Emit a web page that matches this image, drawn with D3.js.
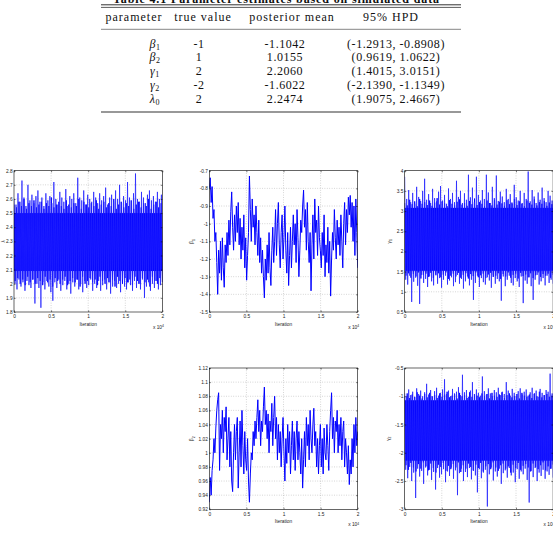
<!DOCTYPE html>
<html lang="en">
<head>
<meta charset="UTF-8">
<title>Parameter estimates and MCMC traces</title>
<script src="https://d3js.org/d3.v7.min.js"></script>
<style>
  body { margin: 0; background: #fff; }
  svg { display: block; }
  .tbl text { font-family: "Liberation Serif", "Times New Roman", serif; font-size: 12px; fill: #111; letter-spacing: 0.55px; }
  .tbl .hd { letter-spacing: 1px; }
  .ax text { font-family: "Liberation Sans", Arial, sans-serif; font-size: 4.8px; fill: #222; }
  .ax .domain { display: none; }
  .ax line { stroke: #000; stroke-width: 0.5; }
  .grid line { stroke: #999; stroke-width: 0.5; stroke-dasharray: 0.8 1.6; }
</style>
</head>
<body>
<svg id="fig" width="553" height="533"></svg>
<script>
// ---- table ----
const tableCaption = "Table 4.1 Parameter estimates based on simulated data";
const tableHeader = ["parameter", "true value", "posterior mean", "95% HPD"];
const paramSymbols = [["β", "1"], ["β", "2"], ["γ", "1"], ["γ", "2"], ["λ", "0"]];
const trueValues = ["-1", "1", "2", "-2", "2"];
const posteriorMeans = ["-1.1042", "1.0155", "2.2060", "-1.6022", "2.2474"];
const hpdIntervals = ["(-1.2913, -0.8908)", "(0.9619, 1.0622)", "(1.4015, 3.0151)",
                      "(-2.1390, -1.1349)", "(1.9075, 2.4667)"];

// ---- traces (thinned) ----
const iterTicks = [0, 0.5, 1, 1.5, 2];   // x 10^4

const lambdaTicks = [1.8, 1.9, 2, 2.1, 2.2, 2.3, 2.4, 2.5, 2.6, 2.7, 2.8];
const lambdaCore = [2.09, 2.50];
const lambdaPeaks = [2.60,2.56,2.64,2.58,2.73,2.61,2.55,2.70,2.59,2.63,
  2.57,2.62,2.66,2.58,2.61,2.55,2.64,2.59,2.62,2.57,
  2.72,2.60,2.56,2.65,2.61,2.58,2.67,2.55,2.62,2.60,
  2.64,2.57,2.75,2.61,2.59,2.66,2.56,2.63,2.60,2.58,
  2.65,2.61,2.57,2.64,2.59,2.62,2.68,2.56,2.61,2.63,
  2.58,2.66,2.60,2.70,2.57,2.62,2.59,2.72,2.61,2.56,
  2.64,2.78,2.60,2.58,2.65,2.61,2.57,2.63,2.66,2.59,
  2.62,2.58,2.65,2.60,2.63];
const lambdaTroughs = [2.00,1.96,2.03,1.98,2.01,1.95,2.02,1.99,1.97,2.03,
  1.86,2.00,1.97,1.83,2.01,1.96,2.02,1.98,1.94,1.88,
  2.01,1.97,2.03,1.95,1.99,2.02,1.96,2.00,1.93,2.01,
  1.98,2.03,1.96,2.00,1.94,2.02,1.97,1.99,2.03,1.95,
  2.00,1.97,2.02,1.95,1.99,2.03,1.96,2.01,1.93,1.98,
  2.02,1.97,2.00,1.94,2.03,1.98,1.96,2.01,1.99,1.95,
  2.02,1.97,2.00,1.96,2.03,1.90,1.98,2.01,1.95,2.00,
  1.97,2.02,1.96,1.99,2.01];
const lambdaInnerPeaks = [2.56,2.54,2.58,2.55,2.60,2.53,2.57,2.55,2.59,2.54,
  2.56,2.58,2.53,2.57,2.55,2.61,2.54,2.56,2.58,2.55,
  2.53,2.59,2.56,2.54,2.57,2.55,2.60,2.53,2.58,2.56,
  2.54,2.57,2.55,2.59,2.53,2.56,2.58,2.54,2.57,2.55,
  2.60,2.53,2.56,2.58,2.54,2.57,2.55,2.59,2.53,2.56,
  2.58,2.54,2.57,2.55,2.60,2.53,2.56,2.58,2.54,2.57];
const lambdaInnerTroughs = [2.02,2.04,2.00,2.03,1.99,2.05,2.01,2.03,2.00,2.04,
  2.02,1.99,2.05,2.01,2.03,1.98,2.04,2.02,2.00,2.03,
  2.05,1.99,2.02,2.04,2.01,2.03,1.98,2.05,2.00,2.02,
  2.04,2.01,2.03,1.99,2.05,2.02,2.00,2.04,2.01,2.03,
  1.98,2.05,2.02,2.00,2.04,2.01,2.03,1.99,2.05,2.02,
  2.00,2.04,2.01,2.03,1.98,2.05,2.02,2.00,2.04,2.01];

const beta1Ticks = [-1.5, -1.4, -1.3, -1.2, -1.1, -1, -0.9, -0.8, -0.7];
const beta1Trace = [-0.80,-0.74,-0.88,-0.79,-0.97,-0.92,-1.10,-1.05,-1.22,-1.40,
  -1.15,-1.28,-1.10,-1.32,-1.08,-1.25,-1.36,-1.12,-1.22,-1.05,
  -1.18,-0.98,-1.12,-0.93,-0.82,-1.02,-1.15,-0.95,-1.10,-0.90,
  -1.05,-0.88,-1.12,-0.97,-1.20,-1.02,-1.15,-0.95,-1.25,-1.08,
  -1.32,-1.18,-1.05,-0.73,-0.92,-1.10,-0.86,-1.02,-0.95,-1.12,
  -0.90,-1.05,-1.18,-0.98,-1.22,-1.08,-1.28,-1.15,-1.30,-1.42,
  -1.20,-1.32,-1.12,-1.28,-1.05,-1.25,-1.35,-1.15,-1.02,-1.22,
  -1.10,-0.92,-1.18,-1.00,-0.88,-1.12,-1.25,-1.05,-0.95,-1.20,
  -1.08,-0.90,-1.15,-1.28,-1.05,-1.35,-1.18,-1.02,-1.25,-1.10,
  -0.95,-1.12,-1.00,-1.22,-0.92,-1.08,-1.30,-1.15,-0.98,-1.05,
  -0.90,-0.81,-1.02,-0.92,-1.15,-0.88,-1.10,-1.22,-1.05,-1.38,
  -1.12,-0.95,-1.20,-0.86,-1.05,-0.98,-1.18,-0.90,-1.08,-1.15,
  -1.25,-1.05,-1.18,-0.95,-1.30,-1.12,-1.22,-1.02,-1.28,-1.10,
  -1.41,-1.20,-1.05,-1.15,-0.92,-1.08,-1.20,-0.98,-1.12,-1.02,
  -1.18,-0.95,-1.10,-1.25,-1.00,-0.88,-1.12,-0.92,-1.05,-0.85,
  -0.95,-0.84,-1.02,-0.88,-1.10,-0.90,-1.18,-0.86,-1.05,-1.25];

const gamma1Ticks = [0.5, 1, 1.5, 2, 2.5, 3, 3.5, 4];
const gamma1Core = [1.52, 3.08];
const gamma1Peaks = [3.85,3.30,3.52,3.22,3.45,3.18,3.60,3.35,3.25,3.50,
  3.80,3.28,3.42,3.20,3.55,3.32,3.24,3.48,3.62,3.26,
  3.40,3.18,3.56,3.30,3.45,3.22,3.75,3.35,3.50,3.20,
  3.44,3.28,3.90,3.34,3.58,3.22,3.85,3.40,3.26,3.52,
  3.30,3.90,3.46,3.20,3.60,3.32,3.88,3.25,3.48,3.36,
  3.22,3.55,3.30,3.42,3.18,3.65,3.34,3.26,3.50,3.20,
  3.45,3.30,3.98,3.24,3.52,3.36,3.20,3.46,3.28,3.58,
  3.32,3.22,3.50,3.38,3.26];
const gamma1Troughs = [1.30,1.18,1.40,0.75,1.25,1.35,1.15,0.70,1.42,1.22,
  1.32,1.12,1.38,1.26,1.16,1.44,1.20,1.34,1.10,1.30,
  1.40,1.18,1.28,1.36,1.14,1.24,1.42,1.20,1.32,1.08,
  1.26,1.38,1.16,1.30,0.80,1.22,1.40,1.12,1.34,1.24,
  1.18,1.36,1.28,1.10,1.42,1.20,1.32,1.26,0.78,1.38,
  1.14,1.30,1.40,1.22,1.16,1.34,1.26,1.12,1.38,0.72,
  1.28,1.20,1.36,1.14,0.80,1.30,1.42,1.18,1.26,1.34,
  1.16,1.40,1.22,1.30,1.20];
const gamma1InnerPeaks = [3.20,3.14,3.28,3.17,3.24,3.12,3.30,3.18,3.22,3.15,
  3.26,3.13,3.21,3.32,3.16,3.24,3.19,3.12,3.27,3.18,
  3.14,3.23,3.29,3.16,3.20,3.13,3.25,3.17,3.31,3.15,
  3.22,3.18,3.12,3.26,3.20,3.14,3.28,3.16,3.23,3.19,
  3.13,3.27,3.17,3.21,3.30,3.15,3.24,3.18,3.12,3.26,
  3.20,3.16,3.29,3.14,3.22,3.18,3.25,3.13,3.21,3.17];
const gamma1InnerTroughs = [1.40,1.46,1.35,1.44,1.38,1.48,1.33,1.42,1.45,1.37,
  1.47,1.34,1.41,1.46,1.36,1.43,1.48,1.32,1.40,1.45,
  1.38,1.47,1.35,1.42,1.46,1.33,1.44,1.39,1.48,1.36,
  1.41,1.45,1.34,1.43,1.47,1.37,1.40,1.46,1.32,1.44,
  1.38,1.48,1.35,1.42,1.45,1.33,1.47,1.39,1.43,1.36,
  1.46,1.34,1.41,1.48,1.37,1.44,1.40,1.45,1.35,1.42];

const beta2Ticks = [0.92, 0.94, 0.96, 0.98, 1, 1.02, 1.04, 1.06, 1.08, 1.1, 1.12];
const beta2Trace = [0.93,0.965,0.94,0.975,0.99,1.02,1.00,1.035,1.06,1.075,
  1.085,0.975,1.04,1.02,1.06,1.00,1.05,1.03,1.065,0.99,
  1.02,1.05,0.98,1.03,0.96,0.945,1.00,1.04,0.99,1.03,
  1.05,0.95,1.00,1.045,0.98,1.06,1.01,0.97,1.03,0.99,
  0.975,1.02,0.96,0.93,0.97,1.00,0.99,1.03,1.01,1.045,
  1.02,1.05,1.075,1.03,1.06,1.01,1.045,1.03,1.065,1.093,
  1.04,1.06,1.02,1.055,1.00,1.045,1.03,1.07,1.01,1.05,
  1.08,1.02,1.05,0.99,1.04,1.00,1.03,0.98,1.02,1.05,
  1.00,0.96,1.02,0.985,1.04,1.00,1.03,0.97,1.01,1.045,
  0.99,1.03,0.975,1.02,1.045,0.99,1.03,1.00,0.97,1.02,
  0.95,0.99,1.03,0.98,1.05,1.01,1.04,0.99,1.06,1.02,
  1.00,1.04,1.063,1.01,1.03,0.98,1.02,0.97,1.01,1.04,
  0.98,1.02,0.97,1.035,1.00,0.99,1.04,1.01,0.975,1.03,
  1.06,1.085,1.02,1.05,1.00,1.045,1.03,1.06,1.00,1.04,
  1.01,1.05,0.99,1.03,1.045,0.98,1.02,1.00,0.97,1.01,
  0.955,0.99,0.97,1.02,0.98,1.04,1.00,1.05,1.01,1.03];

const gamma2Ticks = [-3, -2.5, -2, -1.5, -1, -0.5];
const gamma2Core = [-2.14, -1.07];
const gamma2Peaks = [-0.95,-1.00,-0.88,-0.98,-0.92,-1.02,-0.86,-0.96,-0.90,-1.00,
  -0.93,-0.78,-0.97,-0.89,-1.01,-0.91,-0.85,-0.99,-0.94,-0.88,
  -0.70,-0.96,-0.90,-1.00,-0.87,-0.95,-0.92,-0.84,-0.98,-0.62,
  -0.93,-0.89,-1.01,-0.90,-0.75,-0.96,-0.88,-0.94,-0.99,-0.65,
  -0.91,-0.97,-0.86,-0.95,-1.00,-0.89,-0.93,-0.85,-0.98,-0.92,
  -0.96,-0.75,-0.90,-0.99,-0.87,-0.94,-1.00,-0.91,-0.86,-0.97,
  -0.92,-0.88,-0.99,-0.93,-0.85,-0.96,-0.90,-1.01,-0.87,-0.94,
  -0.98,-0.89,-0.92,-0.60,-0.95];
const gamma2Troughs = [-2.30,-2.45,-2.25,-2.50,-2.35,-2.80,-2.28,-2.42,-2.32,-2.55,
  -2.26,-2.40,-2.30,-2.48,-2.34,-2.65,-2.27,-2.44,-2.38,-2.29,
  -2.52,-2.33,-2.41,-2.26,-2.46,-2.31,-2.75,-2.36,-2.28,-2.50,
  -2.34,-2.43,-2.27,-2.47,-2.32,-2.40,-2.70,-2.29,-2.45,-2.35,
  -2.30,-2.95,-2.38,-2.26,-2.49,-2.33,-2.42,-2.28,-2.55,-2.36,
  -2.31,-2.44,-2.27,-2.40,-2.35,-2.52,-2.29,-2.46,-2.33,-2.38,
  -2.28,-2.48,-2.88,-2.32,-2.43,-2.27,-2.50,-2.35,-2.41,-2.30,
  -2.46,-2.33,-2.39,-2.28,-2.44];
const gamma2InnerPeaks = [-1.00,-0.95,-1.03,-0.97,-1.01,-0.93,-0.99,-1.04,-0.96,-1.02,
  -0.94,-1.00,-0.98,-1.03,-0.95,-1.01,-0.97,-0.92,-1.02,-0.99,
  -0.96,-1.04,-0.94,-1.00,-0.98,-1.03,-0.93,-1.01,-0.97,-0.99,
  -1.02,-0.95,-1.00,-0.96,-1.04,-0.94,-0.99,-1.01,-0.97,-0.93,
  -1.03,-0.98,-0.95,-1.02,-1.00,-0.96,-1.04,-0.94,-0.99,-1.01,
  -0.97,-1.03,-0.95,-1.00,-0.92,-1.02,-0.98,-0.96,-1.01,-0.99];
const gamma2InnerTroughs = [-2.22,-2.30,-2.18,-2.26,-2.33,-2.20,-2.28,-2.17,-2.24,-2.31,
  -2.19,-2.27,-2.35,-2.21,-2.25,-2.18,-2.32,-2.23,-2.29,-2.20,
  -2.26,-2.17,-2.34,-2.22,-2.28,-2.19,-2.25,-2.31,-2.21,-2.27,
  -2.18,-2.33,-2.24,-2.20,-2.29,-2.17,-2.26,-2.32,-2.22,-2.19,
  -2.28,-2.24,-2.35,-2.21,-2.27,-2.18,-2.30,-2.23,-2.20,-2.26,
  -2.33,-2.19,-2.25,-2.29,-2.22,-2.17,-2.31,-2.24,-2.28,-2.21];

// successive samples: peak, trough, peak, trough ...
function zigzag(peaks, troughs) {
  return d3.merge(peaks.map((p, i) => [p, troughs[i]]));
}

const svg = d3.select("#fig");

// ---------- table ----------
const tbl = svg.append("g").attr("class", "tbl");
const tblLeft = 101, tblRight = 461;
const headX = [134, 203, 292, 391];
const cellX = [155, 199, 285, 396];
const rowY = [47.5, 61.3, 74.7, 89, 103];

tbl.append("text").attr("x", 276).attr("y", 2.5).attr("text-anchor", "middle")
  .style("font-weight", "bold").style("letter-spacing", "0").attr("textLength", 326).text(tableCaption);

[[4.8, 1], [7.4, 0.8], [29.3, 0.6], [112, 1.2]].forEach(([yy, w]) => {
  tbl.append("line").attr("x1", tblLeft).attr("x2", tblRight)
    .attr("y1", yy).attr("y2", yy).attr("stroke", "#333").attr("stroke-width", w);
});

tbl.selectAll(".hd").data(tableHeader).join("text").attr("class", "hd")
  .attr("x", (d, i) => headX[i]).attr("y", 21).attr("text-anchor", "middle").text(d => d);

paramSymbols.forEach((s, i) => {
  const t = tbl.append("text").attr("x", cellX[0]).attr("y", rowY[i]).attr("text-anchor", "middle");
  t.append("tspan").style("font-style", "italic").text(s[0]);
  t.append("tspan").attr("dy", 2).style("font-size", "8px").text(s[1]);
});
[trueValues, posteriorMeans, hpdIntervals].forEach((col, c) => {
  tbl.selectAll(".c" + c).data(col).join("text")
    .attr("x", cellX[c + 1]).attr("y", (d, i) => rowY[i])
    .attr("text-anchor", "middle").text(d => d);
});

// ---------- trace panels ----------
const W = 148.4, H = 141.3;
const colLeft = [14, 209.3, 404.7];
const rowTop = [170.7, 368];

const panels = [
  { col: 0, row: 0, ticks: lambdaTicks, core: lambdaCore,
    inner: zigzag(lambdaInnerPeaks, lambdaInnerTroughs),
    values: zigzag(lambdaPeaks, lambdaTroughs), sym: "λ", sub: "", sw: 0.75, labX: 3 },
  { col: 1, row: 0, ticks: beta1Ticks, values: beta1Trace, sym: "β", sub: "1", sw: 1, labX: 191.7 },
  { col: 2, row: 0, ticks: gamma1Ticks, core: gamma1Core,
    inner: zigzag(gamma1InnerPeaks, gamma1InnerTroughs),
    values: zigzag(gamma1Peaks, gamma1Troughs), sym: "γ", sub: "1", sw: 0.75, labX: 389 },
  { col: 1, row: 1, ticks: beta2Ticks, values: beta2Trace, sym: "β", sub: "2", sw: 1, labX: 191.7 },
  { col: 2, row: 1, ticks: gamma2Ticks, core: gamma2Core,
    inner: zigzag(gamma2InnerPeaks, gamma2InnerTroughs),
    values: zigzag(gamma2Peaks, gamma2Troughs), sym: "γ", sub: "2", sw: 0.75, labX: 388 }
];

const fmt = d => String(+d.toFixed(2));

panels.forEach((p, k) => {
  const left = colLeft[p.col], top = rowTop[p.row];
  const g = svg.append("g").attr("transform", `translate(${left},${top})`);
  const x = d3.scaleLinear().domain([0, 2]).range([0, W]);
  const y = d3.scaleLinear().domain(d3.extent(p.ticks)).range([H, 0]);

  // dotted grid
  const grid = g.append("g").attr("class", "grid");
  grid.selectAll(".gx").data(iterTicks.slice(1, -1)).join("line")
    .attr("x1", d => x(d)).attr("x2", d => x(d)).attr("y1", 0).attr("y2", H);
  grid.selectAll(".gy").data(p.ticks.slice(1, -1)).join("line")
    .attr("class", "gy")
    .attr("y1", d => y(d)).attr("y2", d => y(d)).attr("x1", 0).attr("x2", W);

  // trace
  svg.append("clipPath").attr("id", "clip" + k).append("rect").attr("width", W).attr("height", H);
  const tr = g.append("g").attr("clip-path", `url(#clip${k})`);
  const line = vals => d3.line().x((d, i) => x(i * 2 / (vals.length - 1))).y(d => y(d))(vals);
  if (p.core) {
    // the dense, fully inked middle of a well-mixed chain
    tr.append("rect").attr("x", x(0)).attr("width", x(2) - x(0))
      .attr("y", y(p.core[1])).attr("height", y(p.core[0]) - y(p.core[1]))
      .attr("fill", "#0000ff");
    tr.append("path").attr("d", line(p.inner))
      .attr("fill", "none").attr("stroke", "#0000ff").attr("stroke-width", 0.9);
  }
  tr.append("path").attr("d", line(p.values))
    .attr("fill", "none").attr("stroke", p.core ? "#2222ff" : "#0000ff").attr("stroke-width", p.sw)
    .attr("stroke-linejoin", "round");

  // axes, ticks pointing inward
  g.append("g").attr("class", "ax").attr("transform", `translate(0,${H})`)
    .call(d3.axisBottom(x).tickValues(iterTicks).tickFormat(fmt).tickSize(-1.6).tickPadding(3));
  g.append("g").attr("class", "ax")
    .call(d3.axisTop(x).tickValues(iterTicks).tickFormat("").tickSize(-1.6));
  g.append("g").attr("class", "ax")
    .call(d3.axisLeft(y).tickValues(p.ticks).tickFormat(fmt).tickSize(-1.6).tickPadding(1.4));
  g.append("g").attr("class", "ax").attr("transform", `translate(${W},0)`)
    .call(d3.axisRight(y).tickValues(p.ticks).tickFormat("").tickSize(-1.6));

  g.append("rect").attr("width", W).attr("height", H)
    .attr("fill", "none").attr("stroke", "#000").attr("stroke-width", 0.6);

  // labels
  const lab = g.append("g").attr("class", "ax");
  lab.append("text").attr("x", W / 2).attr("y", H + 13.6).attr("text-anchor", "middle").text("Iteration");
  const ex = lab.append("text").attr("x", W + 1.5).attr("y", H + 17).attr("text-anchor", "end");
  ex.append("tspan").text("x 10");
  ex.append("tspan").attr("dy", -1.8).style("font-size", "3.4px").text("4");

  const yl = lab.append("text")
    .attr("transform", `translate(${p.labX - left},${H / 2}) rotate(-90)`)
    .attr("text-anchor", "middle").attr("dy", "0.35em");
  yl.append("tspan").text(p.sym);
  if (p.sub) yl.append("tspan").attr("dy", 1.2).style("font-size", "3.4px").text(p.sub);
});
</script>
</body>
</html>
